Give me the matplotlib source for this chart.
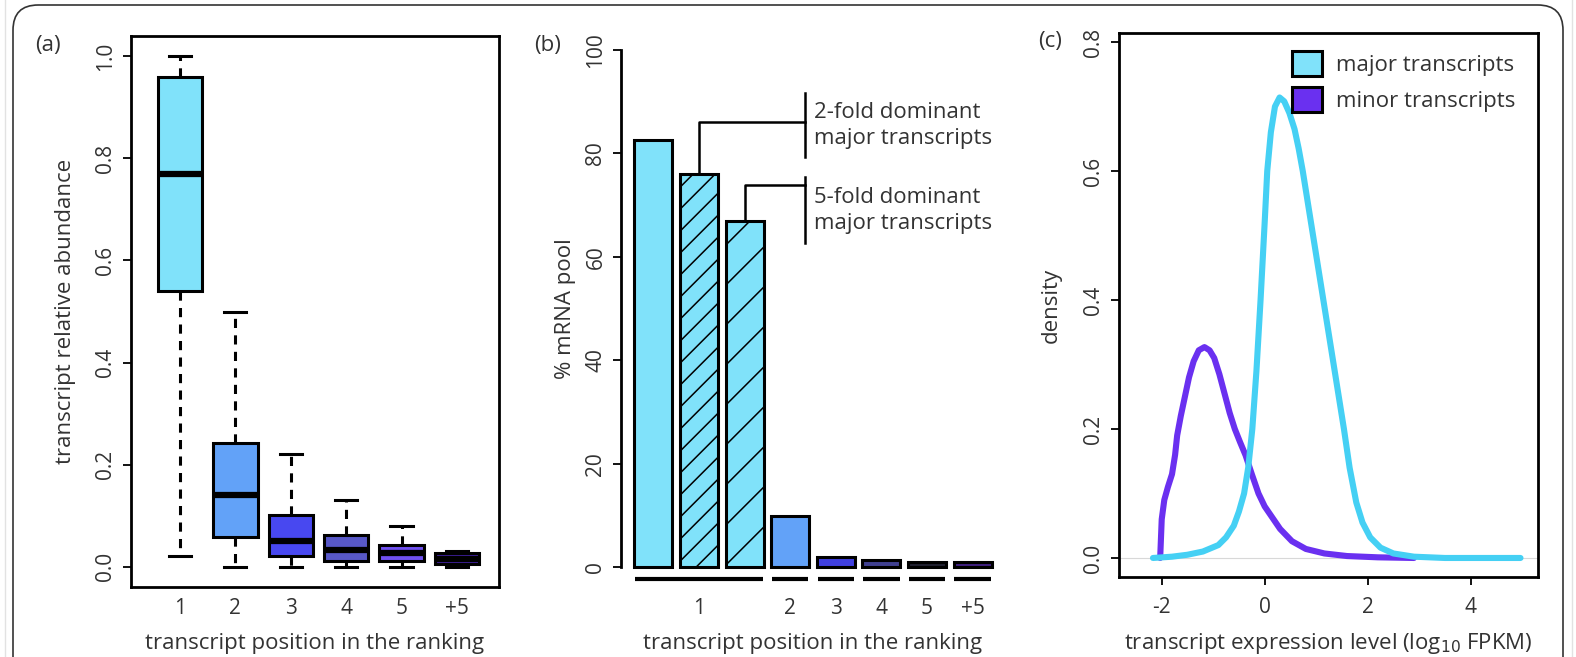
import matplotlib
matplotlib.use("Agg")
import matplotlib.pyplot as plt
from matplotlib.patches import FancyBboxPatch, Patch
from matplotlib.lines import Line2D

plt.rcParams['font.family'] = ['Open Sans', 'DejaVu Sans']

W, H = 1576, 657
TXT = '#333333'

# (a) relative abundance per ranking position (box stats)
POS_LABELS = ["1", "2", "3", "4", "5", "+5"]
WHIS_LO = [0.02, 0.0, 0.0, 0.0, 0.0, 0.0]
Q1 = [0.54, 0.058, 0.02, 0.01, 0.01, 0.005]
MED = [0.77, 0.141, 0.051, 0.032, 0.027, 0.015]
Q3 = [0.959, 0.242, 0.102, 0.062, 0.043, 0.027]
WHIS_HI = [1.0, 0.5, 0.22, 0.131, 0.079, 0.03]
BOX_COLORS = ['#80E2FA', '#62A2F8', '#4848F0', '#5858C8', '#7050F0', '#4020A0']

# (b) % mRNA pool: first three bars all belong to position 1
BAR_VALUES = [82.6, 75.9, 66.9, 9.9, 1.9, 1.5, 1.0, 1.1]
BAR_COLORS = ['#80E2FA', '#80E2FA', '#80E2FA', '#62A2F8', '#4040E0', '#404090', '#202030', '#402080']
BAR_HATCH_PX = [None, 22, 40, None, None, None, None, None]
BAR_GROUPS = [(0, 2, "1"), (3, 3, "2"), (4, 4, "3"), (5, 5, "4"), (6, 6, "5"), (7, 7, "+5")]

# (c) density curves
MAJOR_X = [-2.17, -1.8, -1.5, -1.2, -0.9, -0.75, -0.6, -0.5, -0.4, -0.32, -0.24, -0.16, -0.08,
           0.0, 0.05, 0.12, 0.2, 0.29, 0.38, 0.48, 0.58, 0.66, 0.74, 0.85, 0.95, 1.05, 1.15,
           1.25, 1.35, 1.45, 1.54, 1.65, 1.78, 1.9, 2.05, 2.25, 2.5, 2.9, 3.5, 4.2, 4.97]
MAJOR_Y = [0.0, 0.002, 0.005, 0.01, 0.02, 0.032, 0.05, 0.072, 0.1, 0.14, 0.2, 0.29, 0.4,
           0.52, 0.6, 0.66, 0.7, 0.714, 0.708, 0.69, 0.665, 0.635, 0.6, 0.545, 0.495, 0.445, 0.395,
           0.345, 0.295, 0.245, 0.2, 0.14, 0.086, 0.055, 0.032, 0.016, 0.007, 0.002, 0.0, 0.0, 0.0]
MINOR_X = [-2.03, -2.0, -1.95, -1.88, -1.8, -1.74, -1.7, -1.63, -1.55, -1.47, -1.38, -1.28,
           -1.17, -1.07, -0.98, -0.88, -0.78, -0.68, -0.58, -0.48, -0.37, -0.25, -0.12, 0.0,
           0.12, 0.3, 0.53, 0.8, 1.16, 1.6, 2.2, 2.9]
MINOR_Y = [0.0, 0.06, 0.09, 0.11, 0.13, 0.16, 0.19, 0.22, 0.25, 0.28, 0.305, 0.322,
           0.327, 0.322, 0.31, 0.285, 0.255, 0.225, 0.2, 0.18, 0.159, 0.13, 0.1, 0.08,
           0.066, 0.045, 0.026, 0.014, 0.007, 0.003, 0.001, 0.0]
MAJOR_COLOR = '#45D0F4'
MINOR_COLOR = '#6A30F0'

TICK_FS = 15
LABEL_FS = 16


def rect(l, t, r, b):
    return [l / W, 1 - b / H, (r - l) / W, (b - t) / H]


def style_ticks(ax):
    ax.tick_params(axis='both', direction='out', length=5.5, width=1.3, labelsize=TICK_FS,
                   labelcolor=TXT, color='black', pad=5)
    ax.tick_params(axis='y', labelrotation=90)
    for lab in ax.get_yticklabels():
        lab.set_va('center')


def place_labels(ax, xlab, ylab, ylab_x, xlab_y=644):
    # label centres given in figure pixels
    ax.set_xlabel(xlab, fontsize=LABEL_FS, color=TXT, va='center')
    ax.set_ylabel(ylab, fontsize=LABEL_FS, color=TXT, va='center')
    pos = ax.get_position()
    ax.xaxis.set_label_coords((pos.x0 + pos.x1) / 2, 1 - xlab_y / H, transform=fig.transFigure)
    ax.yaxis.set_label_coords(ylab_x / W, (pos.y0 + pos.y1) / 2, transform=fig.transFigure)


fig = plt.figure(figsize=(W / 100, H / 100), dpi=100)

# rounded card frame, open at the bottom, plus the faint page edges
fig.patches.append(FancyBboxPatch((13 / W, -0.2), 1550 / W, 1.2 - 5 / H,
                                  boxstyle="round,pad=0,rounding_size=0.016",
                                  transform=fig.transFigure, fill=False,
                                  edgecolor='#333333', linewidth=1.2,
                                  mutation_aspect=W / H))
for ex in (4.5, 1571.5):
    fig.lines.append(Line2D([ex / W, ex / W], [0, 1], transform=fig.transFigure,
                            color='#e2e2e2', lw=1.0))

# ---------------- (a) boxplots ----------------
axa = fig.add_axes(rect(131, 36, 499, 587))
stats = [dict(whislo=lo, q1=a, med=m, q3=b, whishi=hi, label=lab)
         for lo, a, m, b, hi, lab in zip(WHIS_LO, Q1, MED, Q3, WHIS_HI, POS_LABELS)]
bp = axa.bxp(stats, positions=range(1, len(stats) + 1), widths=0.8, showfliers=False,
             patch_artist=True, capwidths=0.4,
             boxprops=dict(linewidth=2.2, edgecolor='black'),
             medianprops=dict(color='black', linewidth=4.5, solid_capstyle='butt'),
             whiskerprops=dict(color='black', linewidth=2.2, linestyle=(0, (3.0, 2.4))),
             capprops=dict(color='black', linewidth=2.2))
for patch, c in zip(bp['boxes'], BOX_COLORS):
    patch.set_facecolor(c)
axa.set_xlim(0.115, 6.76)
axa.set_ylim(-0.04, 1.04)
axa.set_yticks([0.0, 0.2, 0.4, 0.6, 0.8, 1.0])
axa.set_yticklabels(["0.0", "0.2", "0.4", "0.6", "0.8", "1.0"])
style_ticks(axa)
axa.tick_params(axis='x', length=0, pad=8)
for s in axa.spines.values():
    s.set_linewidth(2.0)
place_labels(axa, "transcript position in the ranking", "transcript relative abundance", 66)

# ---------------- (b) bars ----------------
axb = fig.add_axes(rect(621, 29, 1005, 588))
xs = [0.7 + 1.2 * i for i in range(len(BAR_VALUES))]
bars = axb.bar(xs, BAR_VALUES, width=1.0, color=BAR_COLORS, edgecolor='black',
               linewidth=2.2, zorder=2)
axb.set_xlim(-0.15, 9.95)
axb.set_ylim(-4, 104)

# hand-spaced hatching (matplotlib's hatch density is fixed), clipped to each bar
inv = axb.transData.inverted()
for bar, sp in zip(bars, BAR_HATCH_PX):
    if sp is None:
        continue
    x0, y0, x1, y1 = bar.get_window_extent().extents
    c = -(x1 - x0)
    while c < (y1 - y0):
        pts = inv.transform([[x0, y0 + c], [x1, y0 + c + (x1 - x0)]])
        ln, = axb.plot(pts[:, 0], pts[:, 1], color='black', lw=1.1, zorder=2.5)
        ln.set_clip_path(bar)
        c += sp
axb.set_xlim(-0.15, 9.95)
axb.set_ylim(-4, 104)

for first, last, lab in BAR_GROUPS:
    axb.plot([xs[first] - 0.48, xs[last] + 0.48], [-2.2, -2.2], color='black', lw=3.0,
             solid_capstyle='butt', clip_on=False)
axb.set_xticks([xs[1], xs[3], xs[4], xs[5], xs[6], xs[7]])
axb.set_xticklabels([g[2] for g in BAR_GROUPS])
axb.set_yticks([0, 20, 40, 60, 80, 100])
axb.set_yticklabels(["0", "20", "40", "60", "80", "100"])
style_ticks(axb)
axb.tick_params(axis='x', length=0, pad=7)
for k in ('top', 'right', 'bottom'):
    axb.spines[k].set_visible(False)
axb.spines['left'].set_bounds(0, 100)
axb.spines['left'].set_linewidth(2.0)
place_labels(axb, "transcript position in the ranking", "% mRNA pool", 566)

# brackets
axb.plot([xs[1], xs[1], 4.7], [BAR_VALUES[1], 86.1, 86.1], color='black', lw=1.8)
axb.plot([4.7, 4.7], [79.2, 91.7], color='black', lw=1.8)
axb.plot([xs[2], xs[2], 4.7], [BAR_VALUES[2], 73.9, 73.9], color='black', lw=1.8)
axb.plot([4.7, 4.7], [62.7, 75.4], color='black', lw=1.8)
axb.text(4.93, 85.3, "2-fold dominant\nmajor transcripts", fontsize=16, color=TXT,
         va='center', ha='left', linespacing=1.3, clip_on=False)
axb.text(4.93, 69.0, "5-fold dominant\nmajor transcripts", fontsize=16, color=TXT,
         va='center', ha='left', linespacing=1.3, clip_on=False)

# ---------------- (c) densities ----------------
axc = fig.add_axes(rect(1119, 33, 1538, 577))
axc.axhline(0, color='#d8d8d8', lw=0.8, zorder=1)
axc.plot(MINOR_X, MINOR_Y, color=MINOR_COLOR, lw=4.4, solid_joinstyle='round',
         solid_capstyle='round', zorder=2)
axc.plot(MAJOR_X, MAJOR_Y, color=MAJOR_COLOR, lw=4.4, solid_joinstyle='round',
         solid_capstyle='round', zorder=3)
axc.set_xlim(-2.83, 5.31)
axc.set_ylim(-0.0295, 0.814)
axc.set_xticks([-2, 0, 2, 4])
axc.set_xticklabels(["-2", "0", "2", "4"])
axc.set_yticks([0.0, 0.2, 0.4, 0.6, 0.8])
axc.set_yticklabels(["0.0", "0.2", "0.4", "0.6", "0.8"])
style_ticks(axc)
axc.tick_params(axis='x', pad=9)
for s in axc.spines.values():
    s.set_linewidth(2.0)
place_labels(axc, "transcript expression level (log$_{10}$ FPKM)", "density", 1051)
handles = [Patch(facecolor='#80E2FA', edgecolor='black', linewidth=2.2, label="major transcripts"),
           Patch(facecolor=MINOR_COLOR, edgecolor='black', linewidth=2.2, label="minor transcripts")]
leg = axc.legend(handles=handles, loc='upper right', bbox_to_anchor=(1 - 14 / 419, 1 - 9 / 544),
                 frameon=False, fontsize=16, handlelength=1.35, handleheight=1.35,
                 handletextpad=0.6, labelspacing=0.5, borderaxespad=0)
for t in leg.get_texts():
    t.set_color(TXT)

# panel letters
for lab, px, py in (("(a)", 48, 45), ("(b)", 548, 45), ("(c)", 1050, 42)):
    fig.text(px / W, 1 - py / H, lab, fontsize=16, color=TXT, ha='center', va='center')

fig.savefig("out.png", dpi=100)
